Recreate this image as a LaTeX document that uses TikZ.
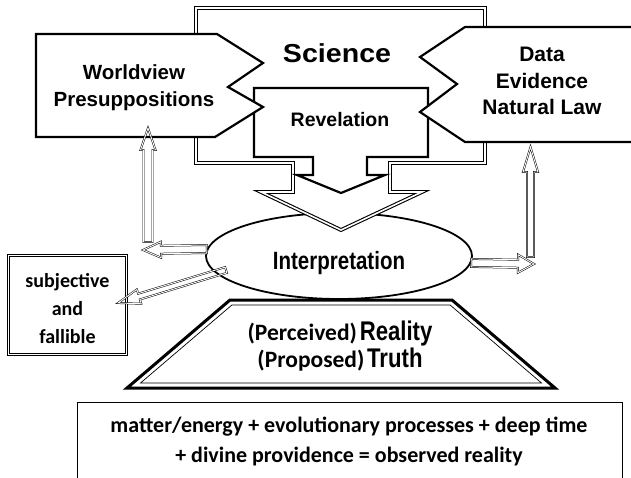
\documentclass[tikz,border=0pt]{standalone}
\usepackage{fontspec}
\setmainfont{Liberation Sans}
\newfontfamily\calibri{Carlito}
\newfontfamily\narrow[FakeStretch=0.82]{Liberation Sans}
\newfontfamily\wide[FakeStretch=1.1]{Liberation Sans}
\usetikzlibrary{calc,shapes.geometric}

\begin{document}
\begin{tikzpicture}[x=1pt, y=-1pt,
		frame/.style=		{draw=black, line width=1.1pt, double=white, double distance=1.6pt, fill=white, line join=miter},
		pointer/.style=		{draw=black, line width=2.2pt, fill=white, line join=miter},
		hollow/.style=		{draw=black, line width=0.5pt, double=white, double distance=0.9pt, line join=miter},
		txt/.style=		{anchor=base, align=center, inner sep=0pt}]
	\def\hollowarrow#1#2#3#4#5{% tail, tip, shaft, head width, head length
		\coordinate (neck) at ($(#2)!#5!(#1)$);
		\draw[hollow] ($(#1)!#3!90:(#2)$) -- ($(neck)!#3!90:(#2)$) -- ($(neck)!#4!90:(#2)$) -- (#2)
			-- ($(neck)!#4!-90:(#2)$) -- ($(neck)!#3!-90:(#2)$) -- ($(#1)!#3!-90:(#2)$) -- cycle;}
	\useasboundingbox (0,0) rectangle (631,478);

	% interpretation
	\node[ellipse, draw, line width=1.8pt, fill=white, minimum width=266pt, minimum height=86pt, inner sep=0pt,
		font=\narrow\bfseries\fontsize{25}{28}\selectfont, text height=27pt, text depth=0pt] (interp) at (339,256) {Interpretation};

	% science and revelation
	\draw[frame] (196,8) -- (485,8) -- (485,163) -- (390,163) -- (390,192) -- (422,192) -- (341,230)
		-- (261,192) -- (293,192) -- (293,163) -- (196,163) -- cycle;
	\draw[pointer] (254,88) -- (428,88) -- (428,157) -- (367,157) -- (367,175) -- (385,175) -- (341,193)
		-- (297,175) -- (313,175) -- (313,157) -- (254,157) -- cycle;
	\node[txt, font=\wide\bfseries\fontsize{26}{30}\selectfont] (science) at (337,63) {Science};
	\node[txt, font=\bfseries\fontsize{19.5}{24}\selectfont] (revelation) at (340,127) {Revelation};

	% side boxes
	\draw[pointer] (36,34) -- (217,34) -- (263,63) -- (228,87) -- (263,107) -- (215,137) -- (36,137) -- cycle;
	\draw[pointer] (640,27) -- (465,27) -- (420,57) -- (457,84) -- (420,112) -- (465,142) -- (640,142) -- cycle;
	\node[txt, font=\bfseries\fontsize{20.5}{27}\selectfont] (worldview) at (134,107) {Worldview\\Presuppositions};
	\node[txt, font=\bfseries\fontsize{21}{26.5}\selectfont] (data) at (542,115) {Data\\Evidence\\Natural Law};

	% reality
	\draw[line width=3pt, line join=miter] (230,300) -- (452,300) -- (555,388) -- (127,388) -- cycle;
	\draw[line width=0.7pt] (231.9,305) -- (450.1,305) -- (541.5,383) -- (140.5,383) -- cycle;
	\node[txt, font=\bfseries] (reality) at (340,367)
		{{\calibri\fontsize{23.5}{31}\selectfont(Perceived)} {\narrow\fontsize{27}{31}\selectfont Reality}\\
		 {\calibri\fontsize{23.5}{31}\selectfont(Proposed)} {\narrow\fontsize{27}{31}\selectfont Truth}};

	% notes
	\node[frame, minimum width=118pt, minimum height=99pt, inner sep=0pt] (subj) at (67.5,305) {};
	\node[txt, font=\calibri\bfseries\fontsize{20}{28}\selectfont] (subj-text) at (67.5,343) {subjective\\and\\fallible};
	\node[draw, line width=1.2pt, fill=white, minimum width=545pt, minimum height=84pt, anchor=north west] (summary) at (77,402) {};
	\node[txt, font=\calibri\bfseries\fontsize{22}{30}\selectfont] (summary-text) at (349,462)
		{matter/energy + evolutionary processes + deep time\\+ divine providence = observed reality};

	% arrows
	\coordinate (wv-foot) at (148,242);
	\coordinate (wv-tip) at (148,128);
	\coordinate (left-tip) at (143,250);
	\coordinate (right-tip) at (534,264);
	\coordinate (data-foot) at (530.5,257);
	\coordinate (data-tip) at (530.5,147);
	\coordinate (subj-tail) at (226,270);
	\coordinate (subj-tip) at (118,303);
	\hollowarrow{wv-foot}{wv-tip}{4.5pt}{7.5pt}{22pt}
	\hollowarrow{interp.177}{left-tip}{4pt}{8pt}{18pt}
	\hollowarrow{interp.-3.5}{right-tip}{4pt}{9pt}{16pt}
	\hollowarrow{data-foot}{data-tip}{3.5pt}{7.5pt}{25pt}
	\hollowarrow{subj-tail}{subj-tip}{3pt}{7.5pt}{22pt}
\end{tikzpicture}
\end{document}
